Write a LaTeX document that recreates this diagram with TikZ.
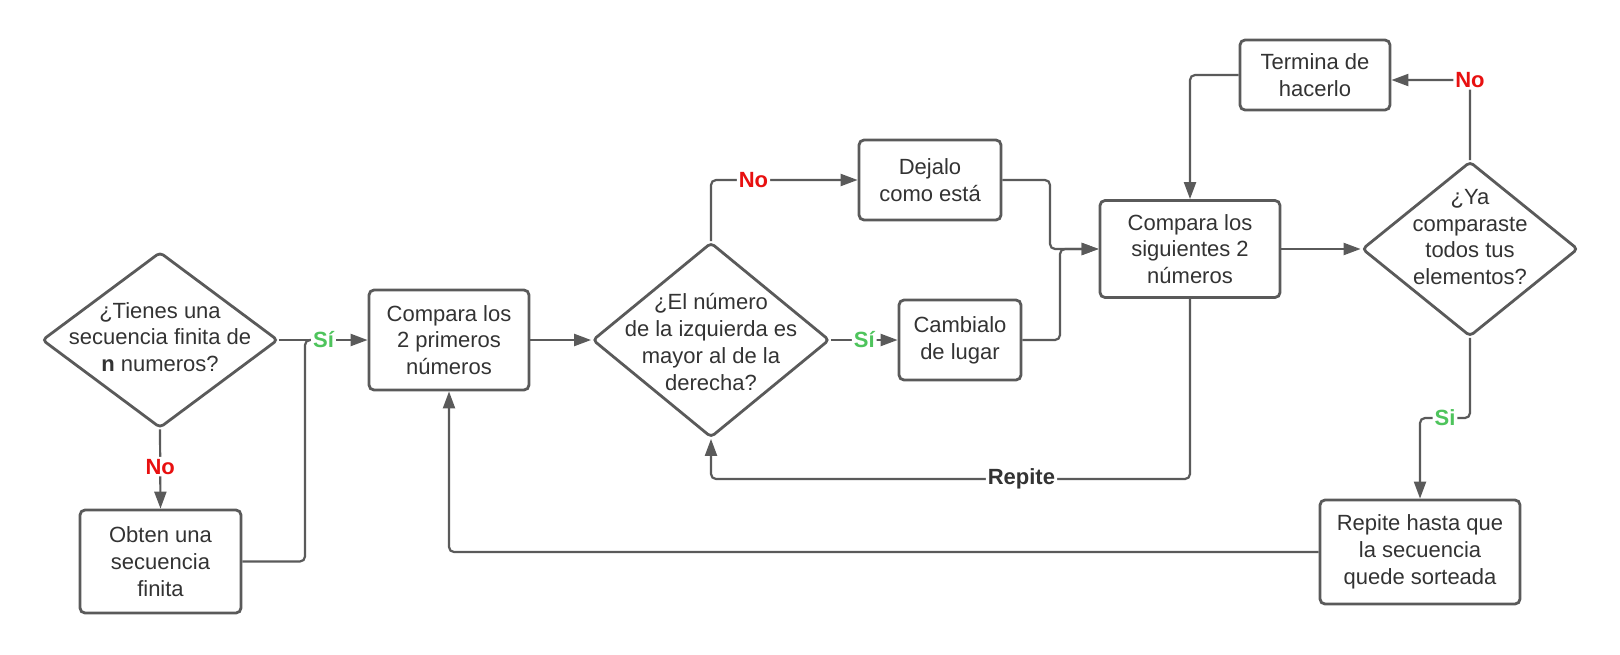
\documentclass[tikz,border=0pt]{standalone}
\usepackage{fontspec}
\setmainfont{Liberation Sans}
\usetikzlibrary{shapes.geometric,arrows.meta}
\definecolor{lineC}{RGB}{90,90,90}
\definecolor{txtC}{RGB}{51,51,51}
\definecolor{noC}{RGB}{232,16,16}
\definecolor{siC}{RGB}{78,196,92}
\begin{document}
\begin{tikzpicture}[x=0.5pt,y=-0.5pt,
  box/.style={draw=lineC, line width=1.4pt, rounded corners=2.5pt, align=center, text=txtC,
    font=\fontsize{11}{13.4}\selectfont, inner sep=0pt},
  dia/.style={draw=lineC, line width=1.4pt, diamond, rounded corners=2pt, inner sep=0pt},
  dtext/.style={align=center, text=txtC, font=\fontsize{11}{13.4}\selectfont, inner sep=0pt},
  conn/.style={draw=lineC, line width=1.1pt, rounded corners=2.5pt},
  arr/.style={conn, -{Triangle[length=8.5pt,width=6pt]}},
  lbl/.style={fill=white, font=\bfseries\fontsize{11}{13}\selectfont, inner sep=1pt},
  lblno/.style={lbl, text=noC},
  lblsi/.style={lbl, text=siC},
  lblrep/.style={lbl, text=txtC}
]
\useasboundingbox (0,0) rectangle (1620,654);

% shapes
\node[dia, minimum width=118pt, minimum height=88pt] (d1) at (160,340) {};
\node[dtext] (t1) at (160,337) {¿Tienes una\\secuencia finita de\\\textbf{n} numeros?};
\node[box, minimum width=80.5pt, minimum height=51.5pt] (b0) at (160.5,561.5) {Obten una\\secuencia\\finita};
\node[box, minimum width=80pt, minimum height=50pt] (b1) at (449,340) {Compara los\\2 primeros\\números};
\node[dia, minimum width=118.5pt, minimum height=97.5pt] (d2) at (711,340) {};
\node[dtext] (t2) at (711,342) {¿El número\\de la izquierda es\\mayor al de la\\derecha?};
\node[box, minimum width=71pt, minimum height=40pt] (bD) at (930,180) {Dejalo\\como está};
\node[box, minimum width=61pt, minimum height=40pt] (bC) at (960,340) {Cambialo\\de lugar};
\node[box, minimum width=90pt, minimum height=48.5pt] (b2) at (1190,249) {Compara los\\siguientes 2\\números};
\node[box, minimum width=75pt, minimum height=35pt] (bT) at (1315,75) {Termina de\\hacerlo};
\node[dia, minimum width=108pt, minimum height=87.5pt] (d3) at (1470,249) {};
\node[dtext] (t3) at (1470,237) {¿Ya\\comparaste\\todos tus\\elementos?};
\node[box, minimum width=100pt, minimum height=52pt] (bR) at (1420,552) {Repite hasta que\\la secuencia\\quede sorteada};

% helper coordinates
\coordinate (j1) at (305,340);
\coordinate (m1) at (1050,249);
\coordinate (m2) at (1060,249);
\coordinate (s1) at (1470,418);
\coordinate (s2) at (1420,418);
\coordinate (r1) at (1190,479);
\coordinate (r2) at (711,479);

% connectors
\draw[conn] (b0.east) -| (j1) -- ++(10,0);
\draw[arr] (d1.east) -- node[lblsi] {Sí} (b1.west);
\draw[arr] (d1.south) -- node[lblno, pos=0.47] {No} (b0.north);
\draw[arr] (b1.east) -- (d2.west);
\draw[arr] (d2.north) |- node[lblno, pos=0.645] {No} (bD.west);
\draw[arr] (d2.east) -- node[lblsi] {Sí} (bC.west);
\draw[arr] (bD.east) -| (m1) -- (b2.west);
\draw[arr] (bC.east) -| (m2) -- (b2.west);
\draw[arr] (b2.east) -- (d3.west);
\draw[arr] (d3.north) |- node[lblno, pos=0.5] {No} ([yshift=-2.5pt]bT.east);
\draw[arr] (bT.west) -| (b2.north);
\draw[arr] (d3.south) -- (s1) -- node[lblsi] {Si} (s2) -- (bR.north);
\draw[arr] (b2.south) -- (r1) -- node[lblrep, pos=0.352] {Repite} (r2) -- (d2.south);
\draw[arr] (bR.west) -| (b1.south);
\end{tikzpicture}
\end{document}
